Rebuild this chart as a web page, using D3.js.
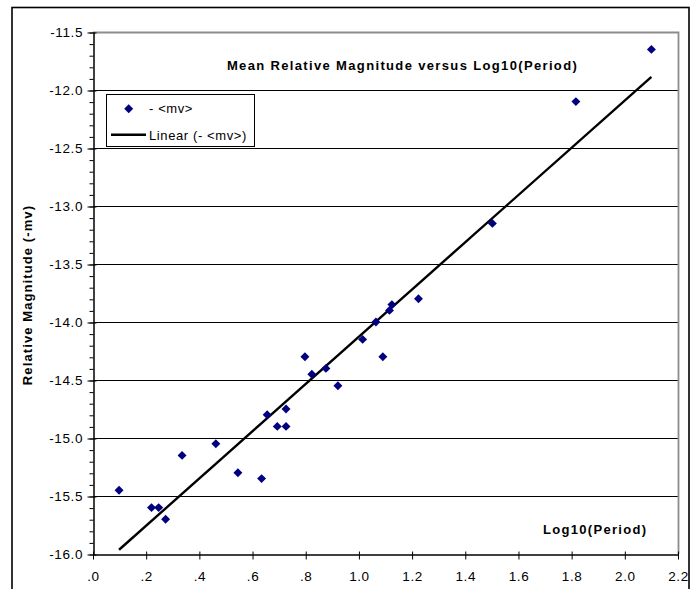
<!DOCTYPE html>
<html>
<head>
<meta charset="utf-8">
<script src="https://cdn.jsdelivr.net/npm/d3@7"></script>
<style>
  html, body { margin: 0; padding: 0; background: #fff; }
  svg { display: block; }
  text { font-family: "Liberation Sans", Arial, sans-serif; }
</style>
</head>
<body>
<svg id="chart" width="699" height="589"></svg>
<script>
// ---- data ----
const logPeriod = [0.098, 0.220, 0.247, 0.273, 0.335, 0.462, 0.545, 0.634, 0.655, 0.693, 0.726, 0.726,
                   0.797, 0.823, 0.876, 0.921, 1.014, 1.064, 1.090, 1.115, 1.124, 1.224, 1.502, 1.816, 2.100];
const relMag    = [-15.45, -15.60, -15.60, -15.70, -15.15, -15.05, -15.30, -15.35, -14.80, -14.90, -14.90, -14.75,
                   -14.30, -14.45, -14.40, -14.55, -14.15, -14.00, -14.30, -13.90, -13.85, -13.80, -13.15, -12.10, -11.65];
const xTickValues = [0, 0.2, 0.4, 0.6, 0.8, 1.0, 1.2, 1.4, 1.6, 1.8, 2.0, 2.2];
const xTickLabels = [".0", ".2", ".4", ".6", ".8", "1.0", "1.2", "1.4", "1.6", "1.8", "2.0", "2.2"];
const yTickValues = [-16.0, -15.5, -15.0, -14.5, -14.0, -13.5, -13.0, -12.5, -12.0, -11.5];
const yTickLabels = ["-16.0", "-15.5", "-15.0", "-14.5", "-14.0", "-13.5", "-13.0", "-12.5", "-12.0", "-11.5"];
const yMinorValues = d3.range(-160, -114, 1).map(v => v / 10);
const titleText = "Mean Relative Magnitude versus Log10(Period)";
const xLabel = "Log10(Period)";
const yLabel = "Relative Magnitude (-mv)";
const seriesName = "- <mv>";
const trendName = "Linear (- <mv>)";

// ---- layout ----
const svg = d3.select("#chart");
const L = 93, R = 678, T = 32, B = 554;
const x = d3.scaleLinear().domain([0, 2.2]).range([L, R]);
const y = d3.scaleLinear().domain([-16, -11.5]).range([B, T]);

// outer frame
svg.append("rect").attr("x", 12).attr("y", 7.5).attr("width", 677).attr("height", 620)
  .attr("fill", "#fff").attr("stroke", "#000").attr("stroke-width", 1.6);

// gridlines
svg.append("g").selectAll("line")
  .data(yTickValues.filter(v => v > -16 && v < -11.5))
  .join("line")
  .attr("x1", L).attr("x2", R)
  .attr("y1", d => Math.round(y(d)) + 0.5).attr("y2", d => Math.round(y(d)) + 0.5)
  .attr("stroke", "#000").attr("stroke-width", 1);

// plot area top / right border (gray)
svg.append("path")
  .attr("d", `M${L},${T + 0.5} H${R + 0.5} V${B}`)
  .attr("fill", "none").attr("stroke", "#8c8c8c").attr("stroke-width", 1.8);

// minor y ticks
const yMinor = svg.append("g").attr("transform", `translate(${L + 0.5},0)`)
  .call(d3.axisLeft(y).tickValues(yMinorValues).tickSize(4).tickFormat(""));
yMinor.select(".domain").remove();
yMinor.selectAll("line").attr("stroke", "#000").attr("transform", "translate(0,0.5)");

// y axis
const yAxis = svg.append("g").attr("transform", `translate(${L + 0.5},0)`)
  .call(d3.axisLeft(y).tickValues(yTickValues).tickSize(6).tickSizeOuter(0)
        .tickFormat((d, i) => yTickLabels[i]));
yAxis.select(".domain").attr("stroke", "#000").attr("stroke-width", 1.5);
yAxis.selectAll(".tick line").attr("stroke", "#000").attr("x1", 3).attr("x2", -6).attr("transform", "translate(0,0.5)");
yAxis.selectAll(".tick text")
  .attr("x", -10.5).attr("dy", "0.36em")
  .attr("font-size", 13.5).attr("letter-spacing", 0.6)
  .attr("font-family", "Liberation Sans, Arial, sans-serif").attr("fill", "#000");

// x axis
const xAxis = svg.append("g").attr("transform", `translate(0,${B + 0.5})`)
  .call(d3.axisBottom(x).tickValues(xTickValues).tickSize(5).tickSizeOuter(0)
        .tickFormat((d, i) => xTickLabels[i]));
xAxis.select(".domain").attr("stroke", "#000").attr("stroke-width", 1.5);
xAxis.selectAll(".tick line").attr("stroke", "#000").attr("y1", -3).attr("y2", 5);
xAxis.selectAll(".tick text")
  .attr("y", 0).attr("dy", 26.5)
  .attr("font-size", 13.5).attr("letter-spacing", 0.6)
  .attr("font-family", "Liberation Sans, Arial, sans-serif").attr("fill", "#000");

// trendline (least squares)
const n = logPeriod.length;
const mx = d3.mean(logPeriod), my = d3.mean(relMag);
let sxy = 0, sxx = 0;
for (let i = 0; i < n; i++) { sxy += (logPeriod[i] - mx) * (relMag[i] - my); sxx += (logPeriod[i] - mx) ** 2; }
const slope = sxy / sxx, icpt = my - slope * mx;
const xr = d3.extent(logPeriod);
svg.append("path")
  .datum(xr.map(v => [v, icpt + slope * v]))
  .attr("d", d3.line().x(d => x(d[0])).y(d => y(d[1])))
  .attr("stroke", "#000").attr("stroke-width", 2.4).attr("fill", "none");

// points
const diamond = d3.symbol().type(d3.symbolSquare).size(40);
svg.append("g").selectAll("path")
  .data(logPeriod.map((v, i) => [v, relMag[i]]))
  .join("path")
  .attr("d", diamond)
  .attr("transform", d => `translate(${x(d[0])},${y(d[1])}) rotate(45)`)
  .attr("fill", "#000080");

// title
svg.append("text").attr("x", 402.5).attr("y", 69.5).attr("text-anchor", "middle")
  .attr("font-size", 13).attr("font-weight", "bold").attr("letter-spacing", 1.35)
  .text(titleText);

// x label inside plot
svg.append("text").attr("x", 543).attr("y", 533.5)
  .attr("font-size", 13).attr("font-weight", "bold").attr("letter-spacing", 1.3)
  .text(xLabel);

// y label
svg.append("text").attr("transform", "translate(31.5,295) rotate(-90)").attr("text-anchor", "middle")
  .attr("font-size", 13).attr("font-weight", "bold").attr("letter-spacing", 1.1)
  .text(yLabel);

// legend
const lg = svg.append("g");
lg.append("rect").attr("x", 106.5).attr("y", 94.5).attr("width", 148).attr("height", 52)
  .attr("fill", "#fff").attr("stroke", "#000").attr("stroke-width", 1);
lg.append("path").attr("d", diamond).attr("transform", "translate(128.7,108.7) rotate(45)").attr("fill", "#000080");
lg.append("text").attr("x", 149).attr("y", 113).attr("font-size", 13).attr("letter-spacing", 0.6).text(seriesName);
lg.append("line").attr("x1", 111).attr("x2", 146).attr("y1", 134.7).attr("y2", 134.7)
  .attr("stroke", "#000").attr("stroke-width", 2.4);
lg.append("text").attr("x", 149).attr("y", 139.5).attr("font-size", 13).attr("letter-spacing", 0.6).text(trendName);
</script>
</body>
</html>
